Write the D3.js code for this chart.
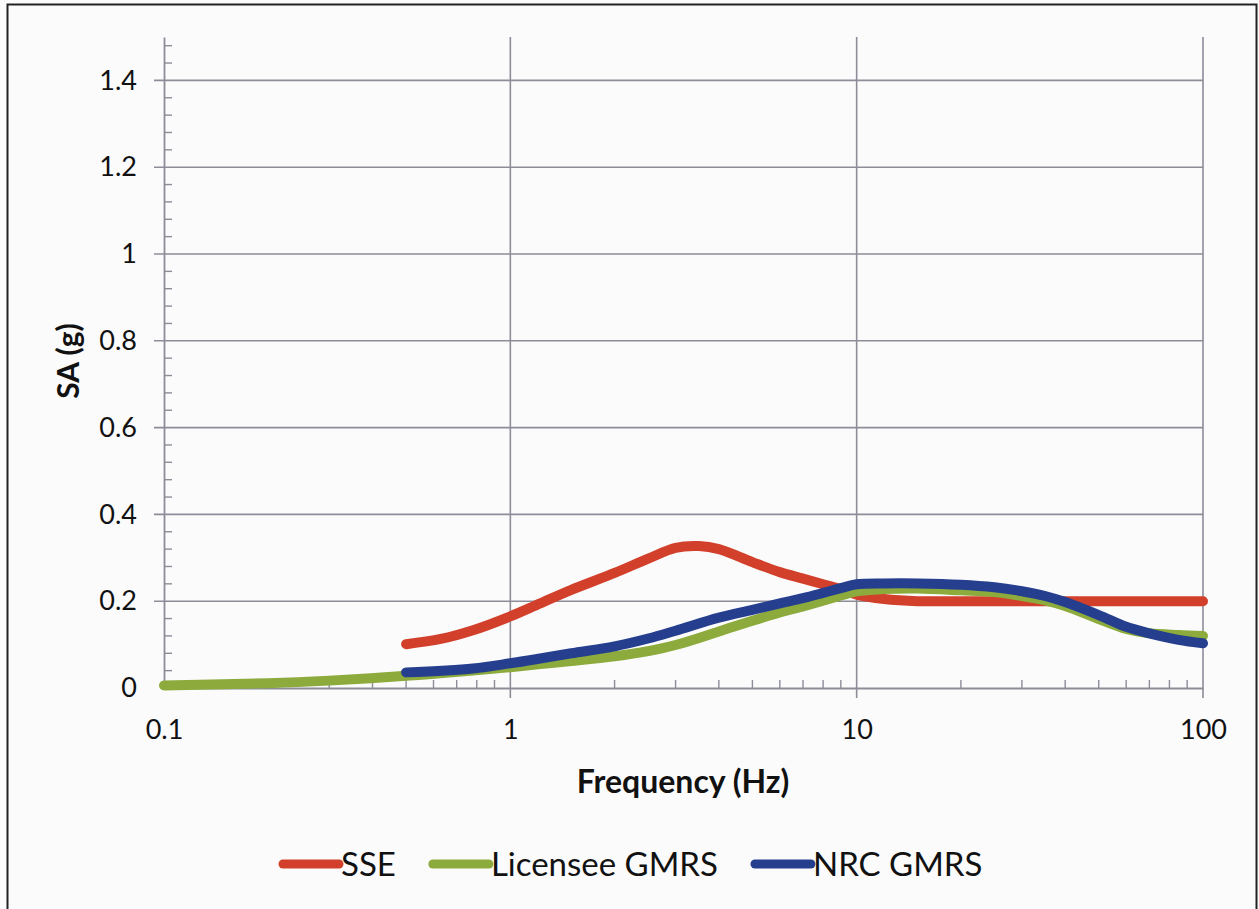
<!DOCTYPE html>
<html>
<head>
<meta charset="utf-8">
<script src="https://cdn.jsdelivr.net/npm/d3@7"></script>
<style>
  html, body { margin: 0; padding: 0; background: #fff; }
  svg { display: block; font-family: Lato, "Open Sans", sans-serif; }
</style>
</head>
<body>
<div id="chart"></div>
<script>
// Data (frequency in Hz, spectral acceleration in g)
const sseFreq = [0.5, 0.63, 0.78, 1, 1.22, 1.5, 2, 2.5, 3, 3.5, 4, 5, 6, 7, 8, 9, 10, 12, 15, 20, 100];
const sseSA   = [0.101, 0.113, 0.133, 0.165, 0.195, 0.226, 0.265, 0.298, 0.323, 0.327, 0.32, 0.29, 0.267, 0.252, 0.239, 0.228, 0.215, 0.205, 0.2, 0.2, 0.2];

const licFreq = [0.1, 0.2, 0.3, 0.5, 0.78, 1, 1.22, 1.5, 2, 2.5, 3, 4, 5, 6, 7, 8, 9, 10, 12, 15, 20, 25, 30, 35, 40, 50, 60, 70, 85, 100];
const licSA   = [0.006, 0.011, 0.017, 0.028, 0.04, 0.048, 0.055, 0.062, 0.073, 0.085, 0.099, 0.13, 0.155, 0.174, 0.188, 0.201, 0.213, 0.223, 0.228, 0.229, 0.225, 0.221, 0.212, 0.202, 0.189, 0.159, 0.136, 0.126, 0.122, 0.12];

const nrcFreq = [0.5, 0.78, 1, 1.22, 1.5, 2, 2.5, 3, 4, 5, 6, 7, 8, 9, 10, 12, 15, 20, 25, 30, 35, 40, 50, 60, 70, 85, 100];
const nrcSA   = [0.036, 0.045, 0.057, 0.068, 0.08, 0.096, 0.114, 0.132, 0.162, 0.18, 0.195, 0.207, 0.219, 0.23, 0.239, 0.241, 0.241, 0.238, 0.232, 0.223, 0.212, 0.198, 0.168, 0.141, 0.126, 0.111, 0.103];

const seriesNames  = ['SSE', 'Licensee GMRS', 'NRC GMRS'];
const seriesColors = ['#d2402b', '#8cab3c', '#253f8e'];

const yTicks = [0, 0.2, 0.4, 0.6, 0.8, 1, 1.2, 1.4];
const xTicks = [0.1, 1, 10, 100];

const W = 1259, H = 909;
const plot = { left: 164, right: 1203, top: 37, bottom: 688 };

const svg = d3.select('#chart').append('svg')
  .attr('width', W).attr('height', H);

// page background + frame
svg.append('rect').attr('x', 0).attr('y', 0).attr('width', W).attr('height', H).attr('fill', '#fbfbfc');
svg.append('rect')
  .attr('x', 7.5).attr('y', 4.5).attr('width', 1249).attr('height', 920)
  .attr('fill', 'none').attr('stroke', '#222').attr('stroke-width', 2);

const x = d3.scaleLog().domain([0.1, 100]).range([plot.left, plot.right]);
const y = d3.scaleLinear().domain([0, 1.5]).range([plot.bottom, plot.top]);

const gridColor = '#8d8d99';

// Horizontal gridlines (stick out left of the axis a little)
svg.append('g').selectAll('line')
  .data(yTicks.filter(d => d > 0))
  .join('line')
  .attr('x1', plot.left - 10).attr('x2', plot.right)
  .attr('y1', d => y(d)).attr('y2', d => y(d))
  .attr('stroke', gridColor).attr('stroke-width', 1.6);

// Vertical gridlines (stick out below the axis)
svg.append('g').selectAll('line')
  .data(xTicks.filter(d => d > 0.1))
  .join('line')
  .attr('x1', d => x(d)).attr('x2', d => x(d))
  .attr('y1', plot.top).attr('y2', plot.bottom + 10)
  .attr('stroke', gridColor).attr('stroke-width', 1.6);

// Minor y ticks every 0.04
const yMinor = d3.range(0, 75).map(i => i * 0.04).filter(v => v <= 1.5 && Math.abs(v / 0.2 - Math.round(v / 0.2)) > 1e-6);
svg.append('g').selectAll('line')
  .data(yMinor)
  .join('line')
  .attr('x1', plot.left).attr('x2', plot.left + 8)
  .attr('y1', d => y(d)).attr('y2', d => y(d))
  .attr('stroke', gridColor).attr('stroke-width', 1.4);

// Minor x ticks 2..9 per decade
const xMinor = [];
[0.1, 1, 10].forEach(dec => { for (let k = 2; k <= 9; k++) xMinor.push(dec * k); });
svg.append('g').selectAll('line')
  .data(xMinor)
  .join('line')
  .attr('x1', d => x(d)).attr('x2', d => x(d))
  .attr('y1', plot.bottom).attr('y2', plot.bottom - 8)
  .attr('stroke', gridColor).attr('stroke-width', 1.4);

// Axes
const yAxis = svg.append('g')
  .attr('transform', `translate(${plot.left},0)`)
  .call(d3.axisLeft(y).tickValues(yTicks).tickSize(0).tickPadding(27).tickFormat(d3.format('~g')));
yAxis.select('.domain').attr('stroke', gridColor).attr('stroke-width', 1.8);
yAxis.selectAll('text').attr('font-size', 27).attr('fill', '#111').attr('font-family', 'Lato, sans-serif');

const xAxis = svg.append('g')
  .attr('transform', `translate(0,${plot.bottom})`)
  .call(d3.axisBottom(x).tickValues(xTicks).tickSize(0).tickPadding(32).tickFormat(d3.format('~g')));
xAxis.select('.domain').attr('stroke', gridColor).attr('stroke-width', 1.8);
xAxis.selectAll('text').attr('font-size', 27).attr('fill', '#111').attr('font-family', 'Lato, sans-serif');

// Axis titles
svg.append('text')
  .attr('x', 683).attr('y', 793)
  .attr('text-anchor', 'middle').attr('font-size', 32).attr('font-weight', 700).attr('fill', '#111')
  .text('Frequency (Hz)');

svg.append('text')
  .attr('transform', 'translate(79,361) rotate(-90)')
  .attr('text-anchor', 'middle').attr('font-size', 30).attr('font-weight', 700).attr('fill', '#111')
  .text('SA (g)');

// Series lines
const series = [
  { name: seriesNames[0], color: seriesColors[0], pts: sseFreq.map((f, i) => ({ f, v: sseSA[i] })) },
  { name: seriesNames[1], color: seriesColors[1], pts: licFreq.map((f, i) => ({ f, v: licSA[i] })) },
  { name: seriesNames[2], color: seriesColors[2], pts: nrcFreq.map((f, i) => ({ f, v: nrcSA[i] })) }
];

const line = d3.line().x(d => x(d.f)).y(d => y(d.v)).curve(d3.curveCatmullRom.alpha(0.5));

svg.append('g').selectAll('path')
  .data(series)
  .join('path')
  .attr('fill', 'none')
  .attr('stroke', d => d.color)
  .attr('stroke-width', 10)
  .attr('stroke-linecap', 'round')
  .attr('stroke-linejoin', 'round')
  .attr('d', d => line(d.pts));

// Legend
const legend = svg.append('g');
let lx = 283;
series.forEach(s => {
  legend.append('line')
    .attr('x1', lx).attr('x2', lx + 56)
    .attr('y1', 864).attr('y2', 864)
    .attr('stroke', s.color).attr('stroke-width', 9).attr('stroke-linecap', 'round');
  const t = legend.append('text')
    .attr('x', lx + 58).attr('y', 876)
    .attr('font-size', 33).attr('fill', '#111')
    .text(s.name);
  lx += 58 + t.node().getComputedTextLength() + 37;
});
</script>
</body>
</html>
